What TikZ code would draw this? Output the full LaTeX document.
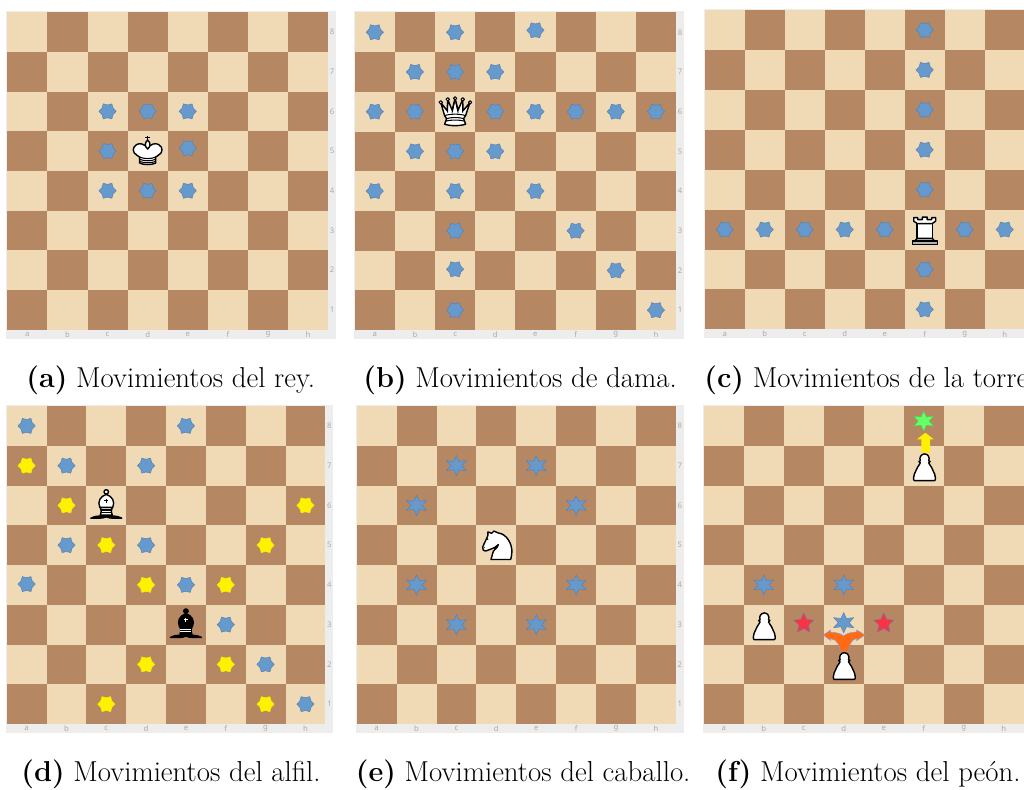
\documentclass[tikz,border=0pt]{standalone}
\usepackage{fontspec}
\usepackage{xcolor}
\usetikzlibrary{shapes.geometric, positioning}
\newfontfamily\coordfont{Noto Sans}
\definecolor{casaclara}{HTML}{F0D9B5}
\definecolor{casaoscura}{HTML}{B58863}
\definecolor{marco}{HTML}{EDEDED}
\definecolor{rotulo}{HTML}{ABABAB}
\definecolor{azulmarca}{HTML}{6699CC}
\definecolor{bordeazul}{HTML}{5A82B4}
\definecolor{amarillomarca}{HTML}{FFF200}
\definecolor{rojomarca}{HTML}{F53545}
\definecolor{verdemarca}{HTML}{66FF66}
\definecolor{naranja}{HTML}{FF6A13}
\tikzset{
    hexa/.style={star, star points=6, star point ratio=1.35, shape border rotate=30, minimum size=0.345cm, inner sep=0pt},
    mazul/.style={hexa, fill=azulmarca, draw=bordeazul, line width=0.3pt},
    mamarilla/.style={hexa, fill=amarillomarca, draw=amarillomarca!90!orange, line width=0.3pt},
    estrella/.style={star, star points=6, star point ratio=2.1, minimum size=0.4cm, inner sep=0pt, xscale=1.15, transform shape, fill=azulmarca, draw=bordeazul, line width=0.3pt},
    mverde/.style={estrella, fill=verdemarca, draw=verdemarca!80!black},
    mroja/.style={star, star points=5, star point ratio=2.1, minimum size=0.42cm, inner sep=0pt, fill=rojomarca, draw=bordeazul!80!rojomarca, line width=0.25pt},
    pie/.style={font=\fontsize{16.4}{18}\selectfont, anchor=base west, inner sep=0pt},
    rotfila/.style={font=\coordfont\fontsize{4.4}{5}\selectfont, text=rotulo, inner sep=0pt},
    pieza/.style={x=0.02cm, y=-0.02cm, draw=black, fill=white, line width=0.8pt, line join=round},
    trazo/.style={x=0.02cm, y=-0.02cm, draw=black, line width=0.6pt},
    pics/rey/.style={code={
        \draw[pieza] (0,-3) .. controls (-3,-7) and (-8,-8.5) .. (-11,-6.5) .. controls (-15.5,-4) and (-15.5,1.5) .. (-11,4) -- (-8,6) -- (-8,12) .. controls (-4,14) and (4,14) .. (8,12) -- (8,6) -- (11,4) .. controls (15.5,1.5) and (15.5,-4) .. (11,-6.5) .. controls (8,-8.5) and (3,-7) .. (0,-3) -- cycle;
        \draw[pieza] (0,-11) .. controls (-3.2,-8) and (-3.2,-5) .. (0,-2) .. controls (3.2,-5) and (3.2,-8) .. (0,-11) -- cycle;
        \draw[trazo] (0,-15.5) -- (0,-11) (-2.4,-13.3) -- (2.4,-13.3);
        \draw[trazo] (-8,6) .. controls (-4,8) and (4,8) .. (8,6) (-8,8.2) .. controls (-4,10.2) and (4,10.2) .. (8,8.2) (-8,10.3) .. controls (-4,12.2) and (4,12.2) .. (8,10.3);
    }},
    pics/dama/.style={code={
        \draw[pieza] (-10.5,4) -- (-14.3,-9) -- (-8,-1) -- (-7.3,-12) -- (-3,-1.5) -- (0,-13) -- (3,-1.5) -- (7.5,-12) -- (8,-1) -- (14.8,-9) -- (10.5,4) -- (8.5,7) -- (10.5,12.5) .. controls (5,14.5) and (-5,14.5) .. (-10.5,12.5) -- (-8.5,7) -- cycle;
        \draw[trazo] (-10.5,4) .. controls (-5,2) and (5,2) .. (10.5,4) (-8.5,7) .. controls (-5,5.5) and (5,5.5) .. (8.5,7) (-9.5,9.5) .. controls (-5,8) and (5,8) .. (9.5,9.5);
        \draw[trazo] (-7.5,1) -- (-7.3,-12) (-3,1) -- (0,-13) (3,1) -- (0,-13) (7.5,1) -- (7.5,-12);
        \foreach \bx/\by in {-14.3/-9.3,-7.3/-12.3,0/-13.3,7.6/-12.3,15/-9.3}
            \draw[pieza, line width=0.6pt] (\bx,\by) circle (1.7);
    }},
    pics/torre/.style={code={
        \draw[pieza] (-7.6,-6) -- (7.6,-6) -- (7.6,8.8) -- (-7.6,8.8) -- cycle;
        \draw[pieza] (-11,-12) -- (-7,-12) -- (-7,-10) -- (-2.4,-10) -- (-2.4,-12.5) -- (2.4,-12.5) -- (2.4,-10) -- (7,-10) -- (7,-12) -- (11,-12) -- (11,-8.5) -- (7.6,-6) -- (-7.6,-6) -- (-11,-8.5) -- cycle;
        \draw[pieza, fill=black!25] (-7.6,8.8) -- (7.6,8.8) -- (10,11.5) -- (-10,11.5) -- cycle;
        \draw[pieza, fill=black!30] (-12.5,11.5) rectangle (12.5,14.8);
    }},
    pics/alfil/.style n args={2}{code={
        \draw[pieza, fill=black] (-15.5,12.8) .. controls (-10,9.5) and (-4,11.5) .. (0,9.5) .. controls (4,11.5) and (10,9.5) .. (15.5,12.8) .. controls (10,12.5) and (4,13.5) .. (0,11.5) .. controls (-4,13.5) and (-10,12.5) .. (-15.5,12.8) -- cycle;
        \draw[pieza, fill=#1] (-6,2) -- (6,2) -- (5,6) -- (6,9.8) -- (-6,9.8) -- (-5,6) -- cycle;
        \draw[pieza, fill=#1] (0,-11) .. controls (-6,-9) and (-9,-4) .. (-6.5,2) -- (6.5,2) .. controls (9,-4) and (6,-9) .. (0,-11) -- cycle;
        \draw[pieza, fill=#1] (0,-13.5) circle (2.2);
        \draw[trazo, draw=#2] (0,-6.8) -- (0,-2.6) (-2.1,-4.7) -- (2.1,-4.7) (-5.5,4.6) -- (5.5,4.6) (-5.5,7.2) -- (5.5,7.2);
    }},
    pics/caballo/.style={code={
        \draw[pieza] (-5.4,14.4) -- (14.3,14.4) .. controls (16,8) and (15.5,5) .. (15.3,3.2) .. controls (14,-5) and (8,-12) .. (1,-12.5) -- (-2.4,-14.1) -- (-4.7,-11.8) -- (-8.4,-13.2) -- (-8.5,-9.5) .. controls (-10,-5.5) and (-12.5,-1.5) .. (-13.7,2.2) .. controls (-14,4.5) and (-12.5,6.5) .. (-10.7,5.9) .. controls (-9,4.8) and (-8,4.8) .. (-6.4,4.3) .. controls (-3.5,3.8) and (-1,2) .. (2,-0.5) .. controls (1,3.5) and (-3.7,5) .. (-3.7,8.2) .. controls (-3.9,10.5) and (-5,12) .. (-5.4,14.4) -- cycle;
        \fill[x=0.02cm, y=-0.02cm] (-8.7,-6) circle (0.9) (-12,2.6) circle (0.6);
    }},
    pics/peon/.style={code={
        \draw[pieza] (-10,15) -- (10,15) .. controls (11.3,15) and (11.3,11) .. (10.2,8.6) .. controls (9.2,6.3) and (8,4) .. (7,1.7) .. controls (6,0) and (4.6,-1.5) .. (4.2,-2.8) .. controls (6.2,-3.4) and (6,-4.8) .. (4.2,-4.9) .. controls (5.6,-8) and (3.4,-11.7) .. (0,-11.7) .. controls (-3.4,-11.7) and (-5.6,-8) .. (-4.2,-4.9) .. controls (-6,-4.8) and (-6.2,-3.4) .. (-4.2,-2.8) .. controls (-4.6,-1.5) and (-6,0) .. (-7,1.7) .. controls (-8,4) and (-9.2,6.3) .. (-10.2,8.6) .. controls (-11.3,11) and (-11.3,15) .. (-10,15) -- cycle;
    }},
}
% board: #1 left, #2 bottom, #3 square width, #4 square height
\newcommand{\tablero}[4]{
    \begin{scope}[shift={(#1,#2)}, x=#3*0.02cm, y=#4*0.02cm]
}
\newcommand{\casillas}{
    \fill[marco] (-0.03,-0.23) rectangle (8.2,8.03);
    \foreach \col in {1,...,8}
        \foreach \fil in {1,...,8} {
            \pgfmathtruncatemacro{\paridad}{mod(\col+\fil,2)}
            \ifnum\paridad=0 \fill[casaoscura] (\col-1,\fil-1) rectangle (\col,\fil);
            \else \fill[casaclara] (\col-1,\fil-1) rectangle (\col,\fil); \fi
        }
    \foreach \letra [count=\i] in {a,b,c,d,e,f,g,h}
        \node[rotfila] (col\i) at (\i-.5,-.12) {\letra};
}
\newcommand{\filas}{
    \foreach \i in {1,...,8}
        \node[rotfila] (fil\i) at (8.1,\i-.5) {\i};
}
\newcommand{\marcas}[3]{
    \foreach \c/\r [count=\i] in {#3}
        \node[#1] (#2\i) at (\c-.5,\r-.5) {};
}
\begin{document}
\begin{tikzpicture}[x=0.02cm, y=-0.02cm, line width=0.5pt]
    \useasboundingbox (0,0) rectangle (1024,789);
    \clip (0,0) rectangle (1024,789);

    % --- Board (a): king ---
    \tablero{7.3}{329.7}{40.1}{39.7}
        \casillas
        \filas
        \marcas{mazul}{a}{3/6,4/6,5/6,3/5,5/5.07,3/4,4/4,5/4}
        \pic at (3.5,4.5) {rey};
    \end{scope}
    \node[pie] (pieA) at (26,387) {\textbf{(a)} Movimientos del rey.};

    % --- Board (b): queen ---
    \tablero{354.7}{330}{40.16}{39.7}
        \casillas
        \filas
        \marcas{mazul}{b}{1/8,3/8,5/8.05,2/7,3/7,4/7,1/6,2/6,4/6,5/6,6/6,7/6,8/6,2/5,3/5,4/5,1/4,3/4,5/4,3/3,6/3,3/2.03,7/2,3/1,8/1}
        \pic at (2.5,5.5) {dama};
    \end{scope}
    \node[pie] (pieB) at (363,387) {\textbf{(b)} Movimientos de dama.};

    % --- Board (c): rook ---
    \tablero{704.7}{329.3}{40}{39.9}
        \casillas
        \marcas{mazul}{c}{6/8,6/7,6/6,6/5,6/4,1/3,2/3,3/3,4/3,5/3,7/3,8/3,6/2,6/1}
        \pic at (5.5,2.5) {torre};
    \end{scope}
    \node[pie] (pieC) at (704,387) {\textbf{(c)} Movimientos de la torre};

    % --- Board (d): bishops ---
    \tablero{6.7}{724}{39.83}{39.75}
        \casillas
        \filas
        \marcas{mazul}{d}{1/8,5/8,2/7,4/7,2/5,4/5,1/4.02,5/4,6/3,7/2,8/1}
        \marcas{mamarilla}{e}{1/7,2/6,8/6,3/5,7/5,4/4,6/4,4/2,6/2,3/1,7/1}
        \pic at (2.5,5.5) {alfil={white}{black}};
        \pic at (4.5,2.5) {alfil={black}{white}};
    \end{scope}
    \node[pie] (pieD) at (21,781.5) {\textbf{(d)} Movimientos del alfil.};

    % --- Board (e): knight ---
    \tablero{356.7}{724}{39.9}{39.75}
        \casillas
        \filas
        \marcas{estrella}{f}{3/7,5/7,2/6,6/6,2/4,6/4,3/3,5/3}
        \pic at (3.5,4.5) {caballo};
    \end{scope}
    \node[pie] (pieE) at (355.5,781.5) {\textbf{(e)} Movimientos del caballo.};

    % --- Board (f): pawns ---
    \tablero{703.7}{724}{40}{39.75}
        \casillas
        \marcas{estrella}{g}{2/4,4/4,4/3.05}
        \marcas{mroja}{h}{3/3.03,5/3.03}
        \node[mverde] (meta) at (5.5,7.62) {};
    \end{scope}
    % yellow push arrow
    \fill[yellow!97!orange] (921.3,452.7) -- (921.3,439.3) -- (917,439.3) -- (925.3,432.7) -- (933.7,439.3) -- (930,439.3) -- (930,452.7) -- cycle;
    \pic at (924.5,465.6) {peon};
    \pic at (764.3,624.6) {peon};
    % orange fork
    \draw[fill=naranja, draw=black!45!blue!40!white, line width=0.3pt] (840.3,651) .. controls (840.3,646) and (837,639.5) .. (830.7,638.6) -- (830.7,640.5) -- (823.3,635) -- (830.7,630) -- (830.7,632.2) .. controls (836,632.2) and (841,633.5) .. (843.7,636) .. controls (846,633.5) and (851,632.2) .. (856.7,632) -- (856.7,630) -- (865,635) -- (856.7,640.5) -- (856.7,638.3) .. controls (851,639.5) and (848.7,646) .. (848.7,651) -- cycle;
    \pic at (844.3,664.4) {peon};
    \node[pie] (pieF) at (715,781.5) {\textbf{(f)} Movimientos del peón.};

\end{tikzpicture}
\end{document}
